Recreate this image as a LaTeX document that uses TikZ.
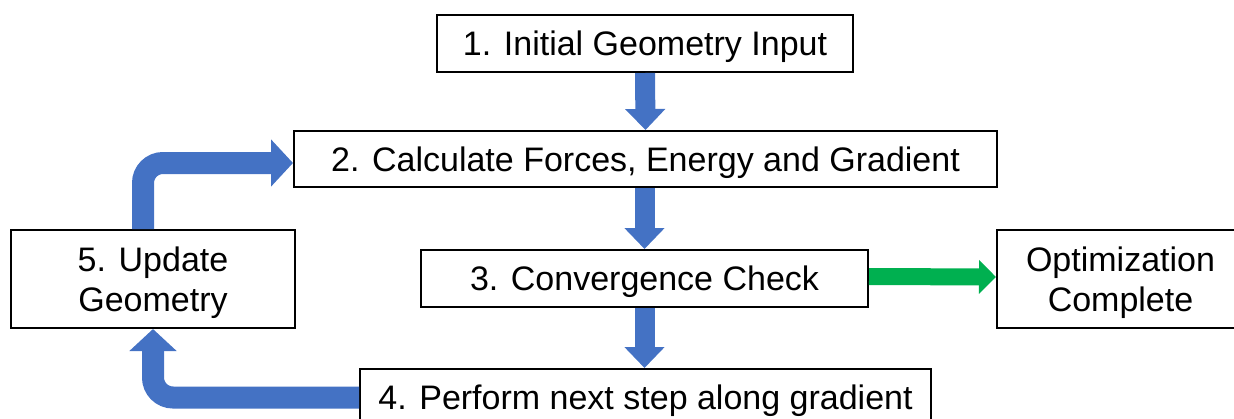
\documentclass[tikz,border=0pt]{standalone}
\usepackage{fontspec}
\setmainfont{Liberation Sans}
\usetikzlibrary{arrows.meta}
\definecolor{stepblue}{HTML}{4472C4}
\definecolor{donegreen}{HTML}{00B050}

\begin{document}
\begin{tikzpicture}[x=0.5pt,y=-0.5pt,
  stage/.style={draw=black,line width=1pt,fill=white,inner sep=0pt,align=center,
    text depth=0pt,font=\fontsize{17}{20}\selectfont},
  bluearrow/.style={draw=stepblue,line width=10pt,-{Triangle[width=19.5pt,length=10.5pt]}},
  bendarrow/.style={draw=stepblue,line width=11pt,rounded corners=10pt,
    -{Triangle[width=23pt,length=11pt]}},
  greenarrow/.style={draw=donegreen,line width=8.5pt,-{Triangle[width=16.5pt,length=8.5pt]}}]
\useasboundingbox (0,0) rectangle (1234,418);

% to write the stages
\node[stage,minimum width=208pt,minimum height=28.5pt] (init) at (645,43.5) {1. Initial Geometry Input};
\node[stage,minimum width=351.5pt,minimum height=28pt] (calc) at (645.5,159) {2. Calculate Forces, Energy and Gradient};
\node[stage,minimum width=223.5pt,minimum height=28.5pt] (conv) at (644.5,278.5) {3. Convergence Check};
\node[stage,minimum width=285.5pt,minimum height=28.5pt] (next) at (645.5,397.5) {4. Perform next step along gradient};
\node[stage,minimum width=142pt,minimum height=49pt] (update) at (153,279) {5. Update\\Geometry};
\node[stage,minimum width=123.5pt,minimum height=49pt] (done) at (1120.5,279) {Optimization\\Complete};

% to draw the straight arrows
\draw[bluearrow] (init.south) -- (calc.north);
\draw[bluearrow] (conv|-calc.south) -- (conv.north);
\draw[bluearrow] (conv.south) -- (next.north-|conv.south);
\draw[greenarrow] ([yshift=1pt]conv.east) -- ([yshift=1pt]done.west);

% to draw the loop back
\draw[bendarrow] (next.west) -| (update.south);
\draw[bendarrow] ([xshift=-5pt]update.north) |- ([yshift=-2pt]calc.west);
\end{tikzpicture}
\end{document}
